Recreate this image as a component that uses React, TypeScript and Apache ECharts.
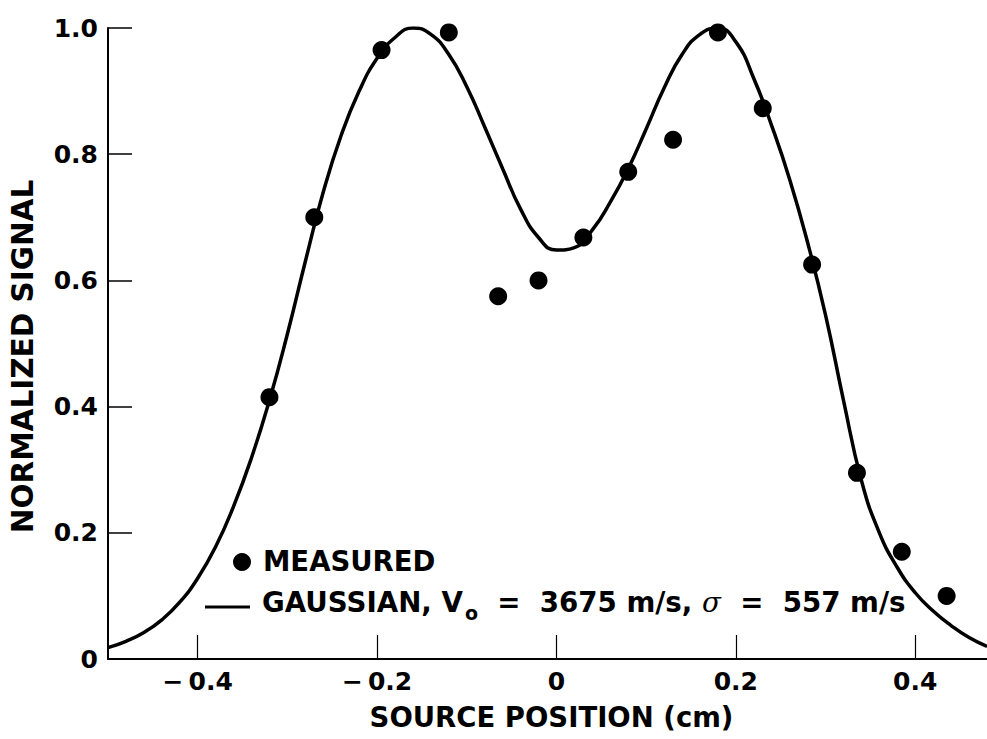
import React, { useEffect, useRef } from "react";
import * as echarts from "echarts";

// Measured points (source position in cm, normalized signal)
const measuredX = [-0.32, -0.27, -0.195, -0.12, -0.065, -0.02, 0.03, 0.08, 0.13, 0.18, 0.23, 0.285, 0.335, 0.385, 0.435];
const measuredY = [0.415, 0.70, 0.965, 0.993, 0.575, 0.60, 0.668, 0.772, 0.823, 0.993, 0.873, 0.625, 0.295, 0.17, 0.10];

// Gaussian fit curve
const curveX = [-0.50, -0.48, -0.46, -0.44, -0.42, -0.40, -0.38, -0.36, -0.34, -0.32, -0.30, -0.28, -0.26, -0.24, -0.22, -0.20, -0.18, -0.16, -0.14, -0.12, -0.10, -0.08, -0.06, -0.04, -0.02, 0.00, 0.02, 0.04, 0.06, 0.08, 0.10, 0.12, 0.14, 0.16, 0.18, 0.20, 0.22, 0.24, 0.26, 0.28, 0.30, 0.32, 0.34, 0.36, 0.38, 0.40, 0.42, 0.44, 0.46, 0.48];
const curveY = [0.018, 0.028, 0.042, 0.062, 0.090, 0.128, 0.178, 0.242, 0.319, 0.41, 0.515, 0.63, 0.74, 0.83, 0.90, 0.952, 0.985, 1.0, 0.99, 0.958, 0.907, 0.843, 0.777, 0.713, 0.668, 0.648, 0.652, 0.680, 0.724, 0.777, 0.84, 0.905, 0.958, 0.99, 1.0, 0.978, 0.92, 0.845, 0.76, 0.66, 0.545, 0.41, 0.283, 0.2, 0.145, 0.105, 0.076, 0.053, 0.034, 0.02];

const xTicks = [-0.4, -0.2, 0, 0.2, 0.4];

const xName = "SOURCE POSITION (cm)";
const yName = "NORMALIZED SIGNAL";
const legendMeasured = "MEASURED";

const FONT = "DejaVu Sans";

export default function App() {
  const ref = useRef<HTMLDivElement>(null);
  useEffect(() => {
    if (!ref.current) return;
    const chart = echarts.init(ref.current, undefined, { renderer: "svg" });
    const fmtX = (v: number) => {
      if (Math.abs(v) < 1e-9) return "0";
      if (v < 0) return "\u2212\u2009" + Math.abs(v).toFixed(1);
      return v.toFixed(1);
    };
    const fmtY = (v: number) => (Math.abs(v) < 1e-9 ? "0" : v.toFixed(1));
    const mainTok = { fontFamily: FONT, fontWeight: "bold", fontSize: 27.7, lineHeight: 28, color: "#000", verticalAlign: "bottom", padding: [0, 0, 6, 0] };
    chart.setOption({
      animation: false,
      backgroundColor: "#fff",
      grid: { left: 107, right: 0, top: 28, bottom: 80, containLabel: false },
      xAxis: {
        type: "value",
        min: -0.5,
        max: 0.48,
        name: xName,
        nameLocation: "middle",
        nameGap: 44,
        nameTextStyle: { fontFamily: FONT, fontWeight: "bold", fontSize: 27.5, color: "#000", padding: [0, 0, 0, 8] },
        axisLine: { show: true, onZero: false, lineStyle: { color: "#000", width: 2 } },
        axisTick: { show: true, inside: true, length: 24, customValues: xTicks, lineStyle: { color: "#000", width: 1.2 } },
        axisLabel: { show: true, customValues: xTicks, formatter: fmtX, margin: 10, fontFamily: FONT, fontWeight: "bold", fontSize: 25, color: "#000" },
        splitLine: { show: false },
      },
      yAxis: {
        type: "value",
        min: 0,
        max: 1,
        interval: 0.2,
        name: yName,
        nameLocation: "middle",
        nameGap: 70,
        nameTextStyle: { fontFamily: FONT, fontWeight: "bold", fontSize: 29.5, color: "#000", padding: [0, 26, 0, 0] },
        axisLine: { show: true, onZero: false, lineStyle: { color: "#000", width: 2 } },
        axisTick: { show: true, inside: true, length: 24, lineStyle: { color: "#000", width: 1.5 } },
        axisLabel: { show: true, formatter: fmtY, margin: 10, fontFamily: FONT, fontWeight: "bold", fontSize: 25, color: "#000" },
        splitLine: { show: false },
      },
      series: [
        {
          type: "line",
          data: curveX.map((x, i) => [x, curveY[i]]),
          showSymbol: false,
          smooth: 0.5,
          lineStyle: { color: "#000", width: 3.5 },
          z: 2,
        },
        {
          type: "scatter",
          data: measuredX.map((x, i) => [x, measuredY[i]]),
          symbol: "circle",
          symbolSize: 18,
          itemStyle: { color: "#000", opacity: 1 },
          z: 3,
        },
      ],
      graphic: [
        { type: "circle", shape: { cx: 242, cy: 562, r: 9 }, style: { fill: "#000" } },
        {
          type: "text",
          x: 263,
          y: 561,
          style: { text: legendMeasured, fontFamily: FONT, fontWeight: "bold", fontSize: 27.5, fill: "#000", verticalAlign: "middle", align: "left" },
        },
        { type: "line", shape: { x1: 205, y1: 607, x2: 250, y2: 607 }, style: { stroke: "#000", lineWidth: 3 } },
        {
          type: "text",
          x: 262,
          y: 594,
          style: {
            text: "{a|GAUSSIAN, V}{sub|o}{a|  =  3675 m/s, }{sig|\u03C3}{a|  =  557 m/s}",
            verticalAlign: "top",
            align: "left",
            rich: {
              a: mainTok,
              sub: { fontFamily: FONT, fontWeight: "bold", fontSize: 19, lineHeight: 19, color: "#000", verticalAlign: "bottom", padding: [0, 0, 0, 2] },
              sig: { ...mainTok, fontFamily: "DejaVu Serif", fontWeight: "normal", fontStyle: "italic" },
            },
          },
        },
      ],
    });
    return () => chart.dispose();
  }, []);
  return <div ref={ref} style={{ position: "absolute", left: 0, top: 0, width: 987, height: 739 }} />;
}
